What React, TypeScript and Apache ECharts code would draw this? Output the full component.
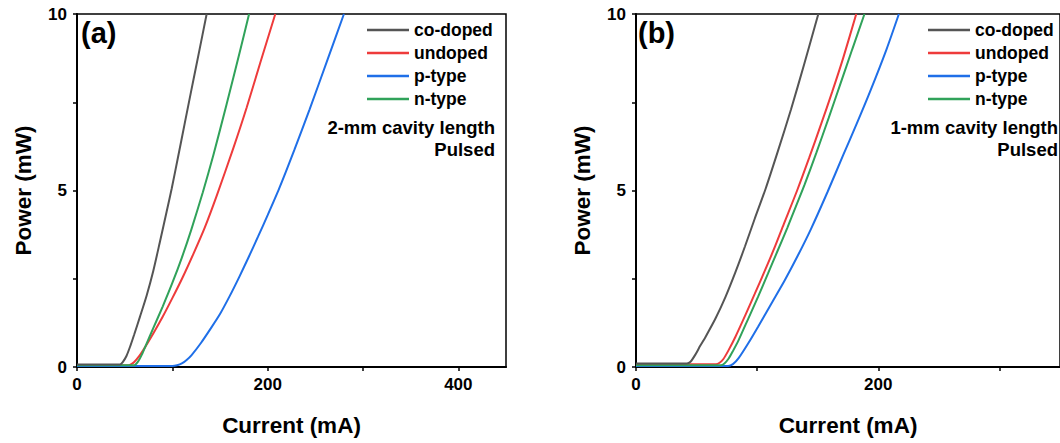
import React, { useEffect, useRef } from 'react';
import * as echarts from 'echarts';

const seriesNames = ['co-doped', 'undoped', 'p-type', 'n-type'];
const seriesColors = ['#555555', '#EE3B3B', '#1F6FE8', '#30A25A'];

// Panel (a): 2-mm cavity length
const codopedA = [[0, 0.07], [25, 0.07], [44, 0.07], [45, 0.07], [48, 0.14], [52, 0.32], [56, 0.6], [60, 0.92], [66, 1.42], [73, 2.02], [80, 2.72], [87, 3.55], [94, 4.4], [99.3, 5.05], [106, 5.95], [113, 6.9], [120, 7.85], [128, 8.92], [136, 10]];
const undopedA = [[0, 0.05], [40, 0.05], [54, 0.05], [57, 0.08], [60, 0.14], [65, 0.3], [70, 0.5], [80, 0.95], [90, 1.43], [100, 1.95], [111, 2.55], [122, 3.2], [134, 3.95], [146.5, 4.85], [164, 6.2], [178, 7.35], [192, 8.6], [208, 10]];
const ptypeA = [[0, 0.03], [50, 0.03], [100, 0.03], [105, 0.05], [110, 0.1], [115, 0.2], [120, 0.33], [130, 0.68], [140, 1.08], [150, 1.5], [160, 2.0], [170, 2.54], [180, 3.11], [190, 3.7], [200, 4.3], [212, 5.05], [228, 6.15], [244, 7.3], [263, 8.72], [280, 10]];
const ntypeA = [[0, 0.05], [40, 0.05], [60, 0.05], [64, 0.15], [68, 0.35], [72, 0.6], [80, 1.1], [90, 1.72], [100, 2.38], [110, 3.1], [120, 3.9], [132, 4.95], [143, 6.0], [157, 7.45], [171, 8.95], [180.5, 10]];

// Panel (b): 1-mm cavity length
const codopedB = [[0, 0.1], [20, 0.1], [42, 0.1], [45, 0.15], [49, 0.35], [53, 0.6], [57.5, 0.86], [65.7, 1.38], [73.8, 1.98], [82, 2.68], [90, 3.42], [98, 4.2], [107, 5.05], [117, 6.1], [128, 7.3], [139, 8.6], [150.5, 10]];
const undopedB = [[0, 0.08], [40, 0.08], [66, 0.08], [69, 0.12], [72, 0.22], [76, 0.45], [82, 0.85], [90, 1.45], [98, 2.07], [106, 2.7], [114, 3.35], [122, 4.05], [133, 5.0], [143, 5.93], [153, 6.9], [162, 7.8], [171, 8.75], [181.8, 10]];
const ptypeB = [[0, 0.03], [40, 0.03], [76, 0.03], [80, 0.08], [84.7, 0.25], [92.8, 0.68], [100.9, 1.15], [111.8, 1.8], [122.7, 2.45], [133.5, 3.15], [144.3, 3.9], [158, 4.95], [171, 6.0], [182.3, 6.9], [193.2, 7.8], [206.8, 9.0], [217, 10]];
const ntypeB = [[0, 0.05], [40, 0.05], [70, 0.05], [73, 0.1], [76.5, 0.24], [80, 0.45], [84.7, 0.76], [92.8, 1.38], [100.9, 2.0], [109, 2.65], [117, 3.3], [125, 3.95], [132, 4.55], [139, 5.15], [149, 6.08], [159, 7.05], [169, 8.05], [178.5, 9.0], [188.6, 10]];

const xTicksA = [0, 100, 200, 300, 400];
const xLabelsA = [0, 200, 400];
const xTicksB = [0, 100, 200, 300];
const xLabelsB = [0, 200];
const yTicks = [0, 2.5, 5, 7.5, 10];
const yLabels = [0, 5, 10];

const panelTags = ['(a)', '(b)'];
const panelNotes = [['2-mm cavity length', 'Pulsed'], ['1-mm cavity length', 'Pulsed']];

const FONT = '"Liberation Sans", Arial, sans-serif';

export default function App() {
  const ref = useRef<HTMLDivElement>(null);
  useEffect(() => {
    if (!ref.current) return;
    const chart = echarts.init(ref.current, undefined, { renderer: 'svg' });

    const grids = [
      { left: 77, top: 14, width: 429, height: 353 },
      { left: 636, top: 14, width: 430, height: 353 },
    ];
    const xMax = [450, 350];
    const xTicks = [xTicksA, xTicksB];
    const xLabels = [xLabelsA, xLabelsB];

    const labelStyle = { fontSize: 17, fontWeight: 'bold', color: '#000', fontFamily: FONT };
    const nameStyle = { fontSize: 22.5, fontWeight: 'bold', color: '#000', fontFamily: FONT };

    const xAxes = [0, 1].map((i) => ({
      type: 'value',
      gridIndex: i,
      min: 0,
      max: xMax[i],
      axisLine: { show: true, onZero: false, lineStyle: { color: '#000', width: 2 } },
      axisTick: { show: true, length: 4, customValues: xTicks[i], lineStyle: { color: '#000', width: 1.5 } },
      axisLabel: { customValues: xLabels[i], margin: 9, ...labelStyle },
      splitLine: { show: false },
      name: 'Current (mA)',
      nameLocation: 'middle',
      nameGap: 47,
      nameTextStyle: nameStyle,
    }));
    const yAxes = [0, 1].map((i) => ({
      type: 'value',
      gridIndex: i,
      min: 0,
      max: 10,
      axisLine: { show: true, onZero: false, lineStyle: { color: '#000', width: 2 } },
      axisTick: { show: true, length: 4, customValues: yTicks, lineStyle: { color: '#000', width: 1.5 } },
      axisLabel: { customValues: yLabels, margin: 10, ...labelStyle },
      splitLine: { show: false },
      name: 'Power (mW)',
      nameLocation: 'middle',
      nameGap: 42,
      nameTextStyle: nameStyle,
    }));

    const dataA = [codopedA, undopedA, ptypeA, ntypeA];
    const dataB = [codopedB, undopedB, ptypeB, ntypeB];
    const series: any[] = [];
    [dataA, dataB].forEach((set, gi) => {
      set.forEach((d, k) => {
        series.push({
          type: 'line',
          name: seriesNames[k],
          xAxisIndex: gi,
          yAxisIndex: gi,
          data: d,
          showSymbol: false,
          smooth: 0.25,
          lineStyle: { color: seriesColors[k], width: 2 },
          itemStyle: { color: seriesColors[k] },
          z: k === 0 ? 5 : 3,
        });
      });
    });

    const legendBase = {
      data: seriesNames,
      orient: 'vertical',
      top: 21,
      padding: 0,
      itemWidth: 42,
      itemHeight: 2.5,
      itemGap: 5,
      icon: 'rect',
      selectedMode: false,
      textStyle: { fontSize: 17.5, fontWeight: 'bold', color: '#000', fontFamily: FONT, lineHeight: 17 },
    };

    const noteRight = [495, 1058];
    const tagLeft = [81, 638];
    const graphics: any[] = [];
    [0, 1].forEach((i) => {
      graphics.push({
        type: 'text',
        left: tagLeft[i],
        top: 18,
        style: { text: panelTags[i], font: `bold 29px ${FONT}`, fill: '#000' },
      });
      panelNotes[i].forEach((t, j) => {
        graphics.push({
          type: 'text',
          x: noteRight[i],
          y: 127 + j * 22,
          style: { text: t, font: `bold 18.5px ${FONT}`, fill: '#000', align: 'right', verticalAlign: 'middle' },
        });
      });
    });

    chart.setOption({
      animation: false,
      backgroundColor: '#fff',
      textStyle: { fontFamily: FONT },
      grid: grids.map((g) => ({ ...g, show: true, borderColor: '#000', borderWidth: 1.5, backgroundColor: 'transparent' })),
      xAxis: xAxes,
      yAxis: yAxes,
      legend: [
        { ...legendBase, left: 367 },
        { ...legendBase, left: 928 },
      ],
      series,
      graphic: graphics,
    });
    return () => chart.dispose();
  }, []);
  return <div ref={ref} style={{ position: 'absolute', left: 0, top: 0, width: 1060, height: 443 }} />;
}
